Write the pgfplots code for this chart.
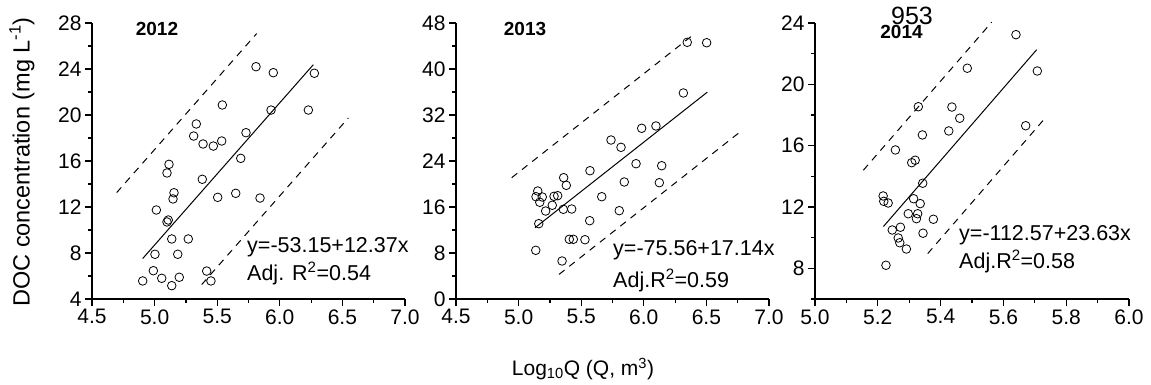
\documentclass[border=0pt]{standalone}
\usepackage{fontspec}
\setmainfont{Liberation Sans}
\usepackage{pgfplots}
\pgfplotsset{compat=1.18}

\pgfplotsset{
  myax/.style={
    scale only axis, width=313pt, height=276pt, anchor=south west,
    axis x line*=bottom, axis y line*=left,
    axis line style={-, line width=1.3pt},
    tick style={black, line width=1.2pt},
    tick align=outside,
    major tick length=7pt, minor tick length=4pt,
    tick label style={font=\fontsize{21}{25}\selectfont},
    /pgf/number format/assume math mode=true,
    xticklabel style={/pgf/number format/fixed, /pgf/number format/fixed zerofill, /pgf/number format/precision=1},
    clip=false,
  },
  pts/.style={only marks, mark=o, mark size=4.3pt, mark options={line width=0.8pt, black}},
  fitl/.style={no marks, black, line width=1pt},
  band/.style={no marks, black, line width=1pt, dash pattern=on 7pt off 6pt},
}

\begin{document}
\begin{tikzpicture}
\path[use as bounding box] (0pt,0pt) rectangle (1151pt,-385pt);

% ---------- 2012 ----------
\begin{axis}[myax, at={(92pt,-299pt)},
  xmin=4.5, xmax=7.0, ymin=4, ymax=28,
  xtick={4.5,5.0,5.5,6.0,6.5,7.0}, minor xtick={4.75,5.25,5.75,6.25,6.75},
  ytick={4,8,12,16,20,24,28}, minor ytick={6,10,14,18,22,26}]
\addplot[pts] coordinates {
(5.810,24.20) (5.948,23.68) (6.276,23.63) (5.541,20.87) (5.930,20.43)
(6.228,20.43) (5.333,19.22) (5.312,18.17) (5.387,17.48) (5.469,17.30)
(5.536,17.74) (5.730,18.46) (5.688,16.23) (5.115,15.71) (5.099,14.96)
(5.381,14.41) (5.155,13.24) (5.147,12.70) (5.504,12.84) (5.648,13.19)
(5.842,12.78) (5.014,11.74) (5.109,10.87) (5.099,10.70) (5.137,9.22)
(5.269,9.22) (5.003,7.89) (5.185,7.89) (4.990,6.46) (4.905,5.57)
(5.057,5.80) (5.137,5.16) (5.197,5.89) (5.416,6.43) (5.450,5.57)
};
\addplot[fitl] coordinates {(4.905,7.52) (6.268,24.38)};
\addplot[band] coordinates {(4.697,13.25) (5.815,27.08)};
\addplot[band] coordinates {(5.376,5.25) (6.547,19.74)};
\end{axis}

% ---------- 2013 ----------
\begin{axis}[myax, at={(456pt,-299pt)},
  xmin=4.5, xmax=7.0, ymin=0, ymax=48,
  xtick={4.5,5.0,5.5,6.0,6.5,7.0}, minor xtick={4.75,5.25,5.75,6.25,6.75},
  ytick={0,8,16,24,32,40,48}, minor ytick={4,12,20,28,36,44}]
\addplot[pts] coordinates {
(6.347,44.64) (6.502,44.57) (6.316,35.83) (6.097,30.09) (5.983,29.69)
(5.738,27.65) (5.818,26.38) (5.938,23.53) (6.143,23.18) (5.570,22.31)
(5.360,21.10) (5.381,19.77) (5.844,20.35) (6.124,20.23) (5.153,18.78)
(5.139,17.79) (5.189,17.74) (5.169,16.82) (5.283,17.86) (5.312,17.97)
(5.269,16.30) (5.216,15.30) (5.357,15.60) (5.424,15.65) (5.664,17.79)
(5.804,15.36) (5.161,13.10) (5.568,13.62) (5.405,10.38) (5.437,10.38)
(5.530,10.31) (5.137,8.47) (5.347,6.61)
};
\addplot[fitl] coordinates {(5.131,12.39) (6.507,35.97)};
\addplot[band] coordinates {(4.945,21.10) (6.396,45.97)};
\addplot[band] coordinates {(5.323,4.28) (6.755,28.82)};
\end{axis}

% ---------- 2014 ----------
\begin{axis}[myax, width=314pt, at={(815pt,-299pt)},
  xmin=5.0, xmax=6.0, ymin=6, ymax=24,
  xtick={5.0,5.2,5.4,5.6,5.8,6.0}, minor xtick={5.1,5.3,5.5,5.7,5.9},
  ytick={8,12,16,20,24}, minor ytick={6,10,14,18,22}]
\addplot[pts] coordinates {
(5.640,23.24) (5.708,20.87) (5.485,21.05) (5.329,18.54) (5.436,18.52)
(5.461,17.79) (5.342,16.70) (5.426,16.96) (5.671,17.30) (5.256,15.72)
(5.319,15.05) (5.308,14.89) (5.343,13.55) (5.217,12.72) (5.219,12.37)
(5.233,12.26) (5.314,12.54) (5.335,12.22) (5.297,11.56) (5.327,11.56)
(5.323,11.24) (5.377,11.20) (5.246,10.50) (5.272,10.68) (5.265,9.98)
(5.270,9.67) (5.291,9.26) (5.344,10.29) (5.226,8.20)
};
\addplot[fitl] coordinates {(5.218,10.73) (5.706,22.26)};
\addplot[band] coordinates {(5.154,14.40) (5.563,24.06)};
\addplot[band] coordinates {(5.359,8.96) (5.738,17.92)};
\end{axis}

% ---------- texts ----------
\node[font=\bfseries\fontsize{19}{22}\selectfont] at (157pt,-29pt) {2012};
\node[font=\bfseries\fontsize{19}{22}\selectfont] at (525pt,-29pt) {2013};
\node[font=\fontsize{25}{28}\selectfont] at (912pt,-16pt) {953};
\node[font=\bfseries\fontsize{19}{22}\selectfont] at (901.5pt,-32pt) {2014};

\node[anchor=base west, inner sep=0pt, font=\fontsize{21.5}{26}\selectfont] at (247pt,-252pt) {y=-53.15+12.37x};
\node[anchor=base west, inner sep=0pt, font=\fontsize{21.5}{26}\selectfont] at (247pt,-280pt) {Adj. R\textsuperscript{2}=0.54};
\node[anchor=base west, inner sep=0pt, font=\fontsize{21.5}{26}\selectfont] at (613pt,-255pt) {y=-75.56+17.14x};
\node[anchor=base west, inner sep=0pt, font=\fontsize{21.5}{26}\selectfont] at (613pt,-287pt) {Adj.R\textsuperscript{2}=0.59};
\node[anchor=base west, inner sep=0pt, font=\fontsize{21.5}{26}\selectfont] at (959pt,-240pt) {y=-112.57+23.63x};
\node[anchor=base west, inner sep=0pt, font=\fontsize{21.5}{26}\selectfont] at (959pt,-268pt) {Adj.R\textsuperscript{2}=0.58};

\node[font=\fontsize{21}{25}\selectfont] at (583pt,-369pt) {Log\textsubscript{10}Q (Q, m\textsuperscript{3})};
\node[rotate=90, font=\fontsize{23.5}{27}\selectfont] at (22pt,-162pt) {DOC concentration (mg L\textsuperscript{-1})};
\end{tikzpicture}
\end{document}
